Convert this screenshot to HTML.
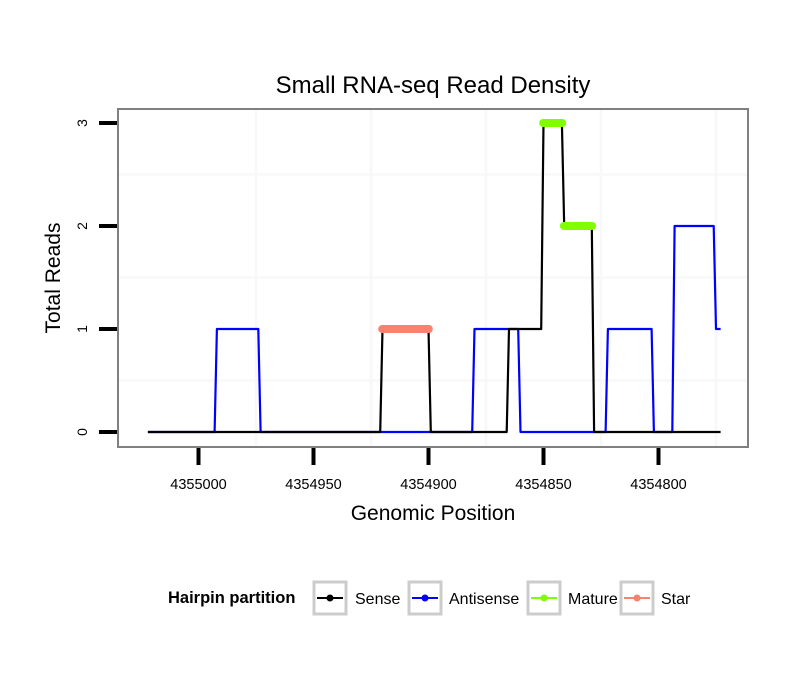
<!DOCTYPE html>
<html><head><meta charset="utf-8"><style>
body{margin:0;background:#fff;}
svg{display:block;font-family:"Liberation Sans",sans-serif;}
</style></head><body>
<svg id="chart" width="810" height="690" viewBox="0 0 810 690">
<text x="433" y="93" font-size="24" text-anchor="middle">Small RNA-seq Read Density</text>
<g id="grid"></g>
<g id="marks"></g>
<rect x="118" y="109" width="630" height="338" fill="none" stroke="#808080" stroke-width="2"/>
<g id="axes"></g>
<text x="433" y="520" font-size="21" text-anchor="middle">Genomic Position</text>
<text transform="translate(60,278) rotate(-90)" font-size="21" text-anchor="middle">Total Reads</text>
<g>
<text x="168" y="603" font-size="16.5" font-weight="bold">Hairpin partition</text>
<g><rect x="314" y="582" width="32" height="32" fill="#fff" stroke="#ccc" stroke-width="3"/><line x1="317" y1="598" x2="343" y2="598" stroke="#000" stroke-width="2"/><circle cx="330" cy="598" r="3.5" fill="#000"/><text x="355" y="604" font-size="16">Sense</text></g>
<g><rect x="409" y="582" width="32" height="32" fill="#fff" stroke="#ccc" stroke-width="3"/><line x1="412" y1="598" x2="438" y2="598" stroke="#00f" stroke-width="2"/><circle cx="425" cy="598" r="3.5" fill="#00f"/><text x="449" y="604" font-size="16">Antisense</text></g>
<g><rect x="528" y="582" width="32" height="32" fill="#fff" stroke="#ccc" stroke-width="3"/><line x1="531" y1="598" x2="557" y2="598" stroke="#7fff00" stroke-width="2"/><circle cx="544" cy="598" r="3.5" fill="#7fff00"/><text x="568" y="604" font-size="16">Mature</text></g>
<g><rect x="621" y="582" width="32" height="32" fill="#fff" stroke="#ccc" stroke-width="3"/><line x1="624" y1="598" x2="650" y2="598" stroke="#fa8072" stroke-width="2"/><circle cx="637" cy="598" r="3.5" fill="#fa8072"/><text x="661" y="604" font-size="16">Star</text></g>
</g>
</svg>
<script>
const xTicks=[4355000,4354950,4354900,4354850,4354800];
const xGrid=[4354975,4354925,4354875,4354825,4354775];
const yTicks=[0,1,2,3];
const yGrid=[0.5,1.5,2.5];
const senseStart=[4355022,4354920,4354899,4354865,4354850,4354841,4354828];
const senseEnd  =[4354921,4354900,4354866,4354851,4354842,4354829,4354773];
const senseVal  =[0,1,0,1,3,2,0];
const antiStart=[4355022,4354992,4354973,4354880,4354860,4354822,4354802,4354793,4354775];
const antiEnd  =[4354993,4354974,4354881,4354861,4354823,4354803,4354794,4354776,4354773];
const antiVal  =[0,1,0,1,0,1,0,2,1];
const matureStart=[4354851,4354842];
const matureEnd  =[4354841,4354828];
const matureVal  =[3,2];
const starStart=[4354921];
const starEnd  =[4354899];
const starVal  =[1];

const X=p=>198.5+(4355000-p)*2.3;
const Y=v=>432-v*103;
const NS="http://www.w3.org/2000/svg";
function mk(tag,attrs,parent){const e=document.createElementNS(NS,tag);for(const k in attrs)e.setAttribute(k,attrs[k]);parent.appendChild(e);return e;}
const grid=document.getElementById('grid'),marks=document.getElementById('marks'),axes=document.getElementById('axes');
xGrid.forEach(p=>{const l=mk('line',{x1:X(p),x2:X(p),y1:110,y2:446,stroke:'#f8f8f8','stroke-width':2.5},grid);

});
yGrid.forEach(v=>{const l=mk('line',{x1:119,x2:747,y1:Y(v),y2:Y(v),stroke:'#f8f8f8','stroke-width':2.5},grid);

});
function runs(s,e,v,color,w,name){
  const pts=[];s.forEach((a,i)=>{pts.push(X(a)+','+Y(v[i]));pts.push(X(e[i])+','+Y(v[i]));});
  const l=mk('polyline',{points:pts.join(' '),fill:'none',stroke:color,'stroke-width':w,'stroke-linejoin':'round'},marks);
  
  
}
function seg(s,e,v,color,name){
  s.forEach((a,i)=>{const l=mk('line',{x1:X(a)+2,x2:X(e[i])-2,y1:Y(v[i]),y2:Y(v[i]),stroke:color,'stroke-width':8,'stroke-linecap':'round'},marks);
  
  });
}
runs(antiStart,antiEnd,antiVal,'#00f',2.2,'antisense-line');
runs(senseStart,senseEnd,senseVal,'#000',2.2,'sense-line');
seg(starStart,starEnd,starVal,'#fa8072','star-segment');
seg(matureStart,matureEnd,matureVal,'#7fff00','mature-segment');
xTicks.forEach(p=>{const l=mk('line',{x1:X(p),x2:X(p),y1:448,y2:465,stroke:'#000','stroke-width':4},axes);


const t=mk('text',{x:X(p),y:489,'font-size':14.5,'text-anchor':'middle'},axes);t.textContent=p;

});
yTicks.forEach(v=>{const l=mk('line',{x1:99,x2:117,y1:Y(v),y2:Y(v),stroke:'#000','stroke-width':4},axes);


const t=mk('text',{transform:`translate(87,${Y(v)}) rotate(-90)`,'font-size':14,'text-anchor':'middle'},axes);t.textContent=v;

});
</script>
</body></html>
